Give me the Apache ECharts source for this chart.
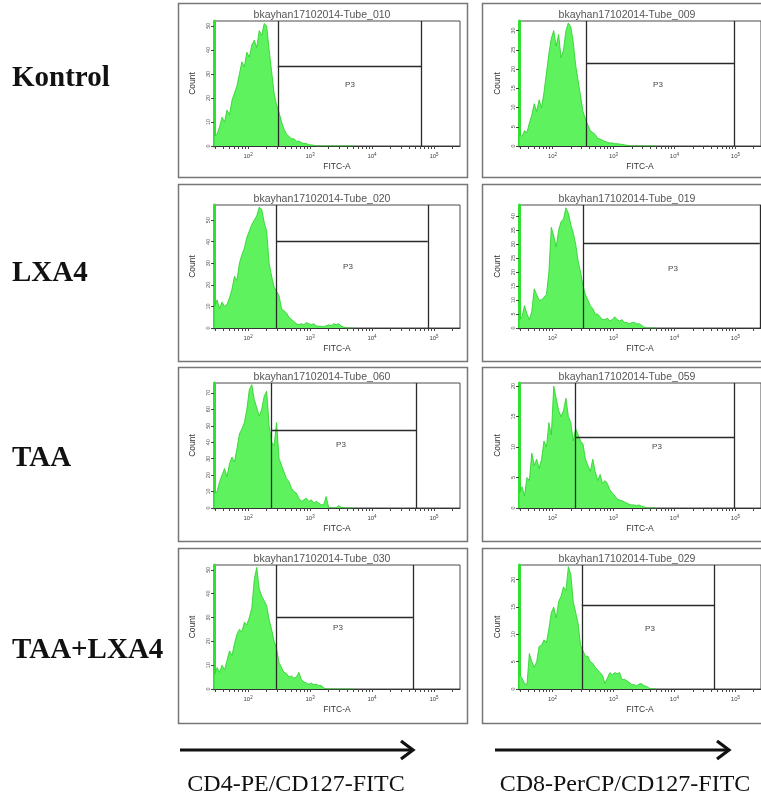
<!DOCTYPE html>
<html><head><meta charset="utf-8">
<script src="https://cdn.jsdelivr.net/npm/echarts@6/dist/echarts.min.js"></script>
<style>html,body{margin:0;padding:0;background:#fff}#c{width:761px;height:798px}</style>
</head><body><div id="c"></div>
<script>
// log10(FITC-A) bin positions
const bins = [1.46,1.50,1.54,1.58,1.62,1.66,1.70,1.74,1.78,1.82,
  1.86,1.90,1.94,1.98,2.02,2.06,2.10,2.14,2.18,2.22,
  2.26,2.30,2.34,2.38,2.42,2.46,2.50,2.54,2.58,2.62,
  2.66,2.70,2.74,2.78,2.82,2.86,2.90,2.94,2.98,3.02,
  3.06,3.10,3.14,3.18,3.22,3.26,3.30,3.34,3.38,3.42,
  3.46,3.50,3.54,3.58,3.62,3.66,3.70];

const rowLabels = ['Kontrol', 'LXA4', 'TAA', 'TAA+LXA4'];
const colLabels = ['CD4-PE/CD127-FITC', 'CD8-PerCP/CD127-FITC'];
const tubeNames = ['bkayhan17102014-Tube_010','bkayhan17102014-Tube_009',
  'bkayhan17102014-Tube_020','bkayhan17102014-Tube_019',
  'bkayhan17102014-Tube_060','bkayhan17102014-Tube_059',
  'bkayhan17102014-Tube_030','bkayhan17102014-Tube_029'];

const kontrolCD4 = [4,5,8,12,10,15,13,19,22,25, 30,35,33,39,37,42,44,41,48,46,
  51,50,40,31,22,17,14,10,7,5, 4,3,3,2,2,1.5,1,1,0.5,0.5, 0.3,0,0,0,0,0,0,0,0,0, 0,0,0,0,0,0,0];
const kontrolCD8 = [3,2.5,4,3.5,6,8,11,9,12,10, 14,19,24,28,30,26,29,23,25,30,
  32,31,27,21,17,13,9,7,5.5,4, 3.5,3,2,1.8,1.5,1.2,1,0.8,0.8,0.6, 0.6,0.5,0.4,0.3,0.2,0,0,0,0,0, 0,0,0,0,0,0,0];
const lxa4CD4 = [10,13,9,12,10,11,14,18,24,22, 30,34,37,42,45,48,50,52,56,55,
  49,45,30,24,19,17,15,9,8,7, 5,4,3,2,1.5,2,1.5,2.5,2,1.5, 2,1,0.8,0.8,0.6,1,1.5,1,2,1.5, 2,1,0.5,0,0,0,0];
const lxa4CD8 = [3,4,8,5,3,6,14,12,10,10, 11,12,20,36,33,29,35,38,39,43,
  41,37,34,30,24,20,15,12,10,8, 7,5,5,4,3,3,3.5,2.5,3,4, 3,2.5,3,2,2,1.5,2,2,1.5,1.5, 1,0.3,0,0,0,0,0];
const taaCD4 = [9,10,16,20,24,19,27,31,28,36, 45,48,52,60,72,75,66,61,56,60,
  68,71,50,40,38,52,30,26,22,18, 16,12,10,9,6,4,5,6,4,5, 3,4,3,2,2,7,0.5,0,0,0, 1.5,0.5,0,0,0,0,0];
const taaCD8 = [2.5,3.5,2,5,4.5,9,7,8,6.5,8, 11,10,14,12,20,18,16,15,16,18,
  15,14,11,13,12,11,10.5,8,7,6, 8,6,4.5,5.5,4,4.5,4,3,2.5,2, 1.5,1.3,1.2,1,0.8,0.6,0.5,0.5,0.4,0.5, 0.3,0.2,0,0,0,0,0];
const taaLxa4CD4 = [6,9,7,10,8,12,16,14,19,23, 25,24,28,27,30,34,46,51,42,39,
  37,35,29,25,20,17,11,9,7,6.5, 5,5.5,4.5,5,7,4,3,2.5,2,2.5, 1.8,2,1.5,1.5,0.5,0,0,0,0,0, 0,0,0,0,0,0,0];
const taaLxa4CD8 = [2.5,2,1,0.8,6.5,5,4,5,7.8,8, 9,8.5,11,14,15,13,16,17,18.7,18,
  22.4,21,16,14,12,8,7,6,6,5, 4.7,4,3.5,3,2.5,1,2,3,2.6,3, 2.8,3,1.7,1.8,1.5,1.2,0.8,0.8,0.6,0.9, 1,0.6,0.5,0.2,0,0,0];

const panelValues = [kontrolCD4, kontrolCD8, lxa4CD4, lxa4CD8, taaCD4, taaCD8, taaLxa4CD4, taaLxa4CD8];
const yMax = [52, 32.5, 57, 44, 76, 20.5, 52, 22.7];
const yTickSets = [[0,10,20,30,40,50],[0,5,10,15,20,25,30],[0,10,20,30,40,50],[0,5,10,15,20,25,30,35,40],
  [0,10,20,30,40,50,60,70],[0,5,10,15,20],[0,10,20,30,40,50],[0,5,10,15,20]];
// P3 gate (log10 FITC-A limits, count level of the gate bar)
const gateLo = [2.48, 2.55, 2.45, 2.50, 2.37, 2.37, 2.45, 2.48];
const gateHi = [4.80, 4.98, 4.90, 5.40, 4.71, 4.98, 4.66, 4.66];
const gateY = [33.3, 21.6, 40.3, 30.4, 47.4, 11.6, 30.2, 15.4];
// x axis ticks (FITC-A)
const xTickNums = [30,40,50,60,70,80,90,100,200,300,400,500,600,700,800,900,
  1000,2000,3000,4000,5000,6000,7000,8000,9000,10000,20000,30000,40000,50000,60000,70000,80000,90000,100000,200000];
const xMajorExp = [2,3,4,5];

// layout
const colLeft = [214, 519];
const rowTop = [21, 205, 383, 565];
const rowH = [125, 123, 125, 124];
const plotW = 246;
const xMin = 1.45, xMax = 5.42;
const boxLeft = [178, 482];
const boxTop = [3, 184, 367, 548];
const boxH = [174, 177, 174, 175];
const p3Pos = [[350,85],[658,85],[348,267],[673,269],[341,445],[657,447],[338,628],[650,629]];
const labelY = [79, 274, 459, 651];

const chart = echarts.init(document.getElementById('c'), null, {renderer: 'canvas'});
const option = {animation: false, grid: [], xAxis: [], yAxis: [], series: [], graphic: []};
const sans = '"Liberation Sans", Arial, sans-serif';
const serif = '"Liberation Serif", "Times New Roman", serif';

for (let i = 0; i < 8; i++) {
  const row = Math.floor(i / 2), col = i % 2;
  const left = colLeft[col], top = rowTop[row], h = rowH[row];
  option.grid.push({left: left, top: top, width: plotW, height: h, show: true,
    borderColor: '#4a4a4a', borderWidth: 1, backgroundColor: 'transparent'});
  option.xAxis.push({type: 'value', gridIndex: i, min: xMin, max: xMax,
    splitLine: {show: false},
    axisLine: {show: true, lineStyle: {color: '#333', width: 1}},
    axisTick: {show: true, length: 3, customValues: xTickNums.map(v => Math.log10(v)), lineStyle: {color: '#444', width: 1}},
    axisLabel: {show: true, customValues: xMajorExp, margin: 6, color: '#444',
      formatter: v => '{b|10}{s|' + Math.round(v) + '}',
      rich: {b: {fontSize: 6, fontFamily: sans, color: '#444'}, s: {fontSize: 4.5, fontFamily: sans, color: '#444', verticalAlign: 'top', padding: [0,0,4,0]}}},
    name: 'FITC-A', nameLocation: 'middle', nameGap: 16,
    nameTextStyle: {fontSize: 8.5, fontFamily: sans, color: '#333'}});
  option.yAxis.push({type: 'value', gridIndex: i, min: 0, max: yMax[i],
    splitLine: {show: false},
    axisLine: {show: true, lineStyle: {color: '#2fe02f', width: 3}},
    axisTick: {show: true, length: 3, customValues: yTickSets[i], lineStyle: {color: '#444'}},
    axisLabel: {show: true, customValues: yTickSets[i], fontSize: 5.5, rotate: 90, margin: 3, color: '#555', fontFamily: sans},
    name: 'Count', nameLocation: 'middle', nameGap: 17,
    nameTextStyle: {fontSize: 8.5, fontFamily: sans, color: '#333'}});
  const vals = panelValues[i];
  option.series.push({type: 'line', xAxisIndex: i, yAxisIndex: i,
    data: bins.map((b, j) => [b, vals[j]]), symbol: 'none', clip: true,
    lineStyle: {color: '#26cf26', width: 0.8},
    areaStyle: {color: '#5ef25e', opacity: 1},
    markLine: {silent: true, symbol: 'none', animation: false,
      label: {show: false},
      lineStyle: {color: '#2a2a2a', width: 1.3, type: 'solid'},
      data: [{xAxis: gateLo[i]}, {xAxis: gateHi[i]},
        [{coord: [gateLo[i], gateY[i]]}, {coord: [gateHi[i], gateY[i]]}]]}});
  // outer panel box
  option.graphic.push({type: 'rect', z: -10, shape: {x: boxLeft[col] + 0.5, y: boxTop[row] + 0.5, width: 289, height: boxH[row]},
    style: {fill: 'none', stroke: '#777', lineWidth: 1.5}});
  // panel title
  option.graphic.push({type: 'text', x: left + 108, y: top - 6,
    style: {text: tubeNames[i], font: '10.5px ' + sans, fill: '#555', textAlign: 'center', textVerticalAlign: 'middle'}});
  // gate label
  option.graphic.push({type: 'text', x: p3Pos[i][0], y: p3Pos[i][1],
    style: {text: 'P3', font: '8px ' + sans, fill: '#444', textAlign: 'center', textVerticalAlign: 'middle'}});
}

rowLabels.forEach((t, r) => {
  option.graphic.push({type: 'text', x: 12, y: labelY[r],
    style: {text: t, font: 'bold 29px ' + serif, fill: '#111', textAlign: 'left', textVerticalAlign: 'middle'}});
});

const arrowX = [[180, 413], [495, 729]];
const colTextX = [296, 625];
colLabels.forEach((t, c) => {
  const a = arrowX[c];
  option.graphic.push({type: 'line', shape: {x1: a[0], y1: 750, x2: a[1] - 2, y2: 750},
    style: {stroke: '#111', lineWidth: 3}});
  option.graphic.push({type: 'polyline', shape: {points: [[a[1] - 12, 741], [a[1], 750], [a[1] - 12, 759]]},
    style: {stroke: '#111', lineWidth: 3.2, fill: 'none'}});
  option.graphic.push({type: 'text', x: colTextX[c], y: 785,
    style: {text: t, font: '24px ' + serif, fill: '#111', textAlign: 'center', textVerticalAlign: 'middle'}});
});

chart.setOption(option);
</script></body></html>
